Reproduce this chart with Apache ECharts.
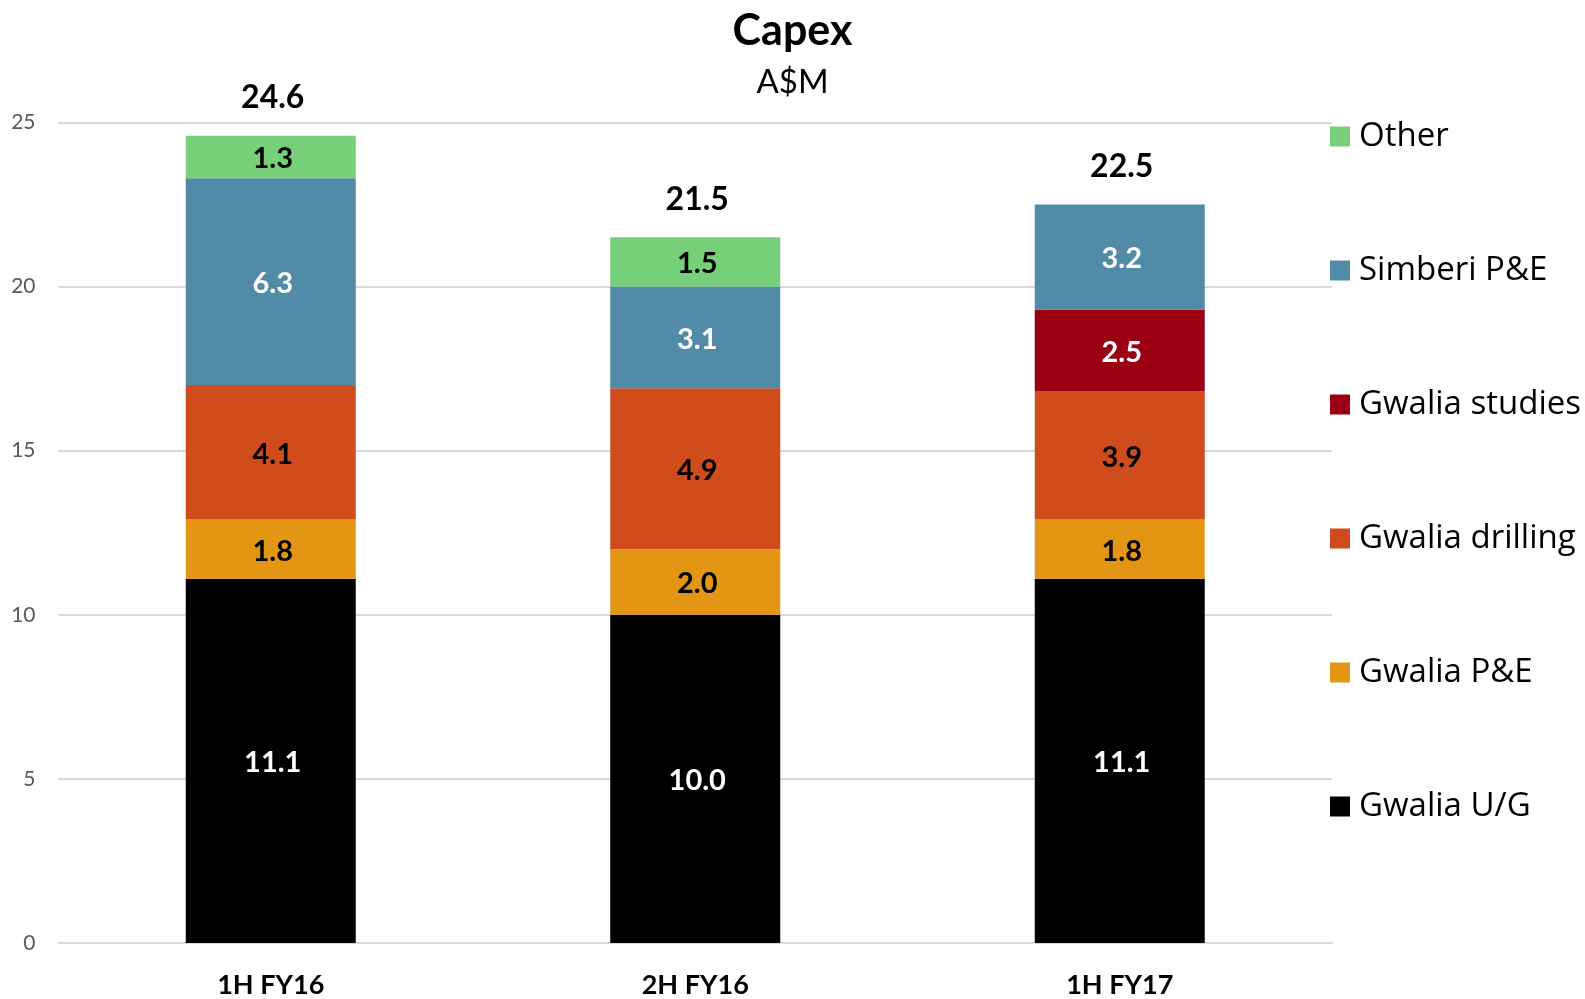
<!DOCTYPE html>
<html>
<head>
<meta charset="utf-8">
<style>
  html, body { margin: 0; padding: 0; background: #fff; }
  #chart { width: 1585px; height: 999px; }
</style>
<script src="https://cdn.jsdelivr.net/npm/echarts@6/dist/echarts.min.js"></script>
</head>
<body>
<div id="chart"></div>
<script>
// Half-year periods
const categories = ['1H FY16', '2H FY16', '1H FY17'];

// Capex components, A$M (bottom of stack first)
const gwaliaUG       = [11.1, 10.0, 11.1];
const gwaliaPE       = [1.8, 2.0, 1.8];
const gwaliaDrilling = [4.1, 4.9, 3.9];
const gwaliaStudies  = [0, 0, 2.5];
const simberiPE      = [6.3, 3.1, 3.2];
const other          = [1.3, 1.5, 0];

const yTicks = { min: 0, max: 25, interval: 5 };

const seriesDefs = [
  { name: 'Gwalia U/G',      data: gwaliaUG,       color: '#000000', text: '#ffffff' },
  { name: 'Gwalia P&E',      data: gwaliaPE,       color: '#E39613', text: '#000000' },
  { name: 'Gwalia drilling', data: gwaliaDrilling, color: '#D04C1C', text: '#000000' },
  { name: 'Gwalia studies',  data: gwaliaStudies,  color: '#9B0012', text: '#ffffff' },
  { name: 'Simberi P&E',     data: simberiPE,      color: '#528BA7', text: '#ffffff' },
  { name: 'Other',           data: other,          color: '#77CF7A', text: '#000000' }
];

// Stack totals shown above each column
const totals = categories.map((_, i) =>
  Math.round(seriesDefs.reduce((s, d) => s + d.data[i], 0) * 10) / 10);

const numFont = 'Lato, "Open Sans", sans-serif';

const barSeries = seriesDefs.map(d => ({
  name: d.name,
  type: 'bar',
  stack: 'capex',
  barWidth: 170,
  data: d.data,
  itemStyle: { color: d.color },
  emphasis: { disabled: true },
  label: {
    show: true,
    position: 'inside',
    offset: [2, 2],
    color: d.text,
    fontFamily: numFont,
    fontWeight: 'bold',
    fontSize: 29,
    formatter: p => (p.value ? p.value.toFixed(1) : '')
  }
}));

// Invisible points at each column top carrying the total label
const totalSeries = {
  name: 'Total',
  type: 'line',
  data: totals,
  symbol: 'circle',
  symbolSize: 1,
  showSymbol: true,
  silent: true,
  itemStyle: { color: 'rgba(0,0,0,0)' },
  lineStyle: { width: 0, opacity: 0 },
  z: 10,
  label: {
    show: true,
    position: 'top',
    distance: 21,
    offset: [2, 0],
    color: '#000',
    fontFamily: numFont,
    fontWeight: 'bold',
    fontSize: 32,
    formatter: p => p.value.toFixed(1)
  }
};

const chart = echarts.init(document.getElementById('chart'), null, { renderer: 'canvas' });

chart.setOption({
  animation: false,
  backgroundColor: '#ffffff',
  title: [
    {
      text: 'Capex',
      left: 'center',
      top: 5,
      textStyle: { fontFamily: numFont, fontWeight: 'bold', fontSize: 43, color: '#000' }
    },
    {
      text: 'A$M',
      left: 'center',
      top: 61,
      textStyle: { fontFamily: numFont, fontWeight: 'normal', fontSize: 33, color: '#000' }
    }
  ],
  legend: {
    orient: 'vertical',
    left: 1325,
    top: 115,
    itemWidth: 20,
    itemHeight: 20,
    itemGap: 101,
    icon: 'rect',
    data: seriesDefs.map(d => d.name).reverse(),
    textStyle: {
      fontFamily: '"Open Sans", sans-serif',
      fontSize: 33,
      color: '#000',
      padding: [0, 0, 0, 4]
    },
    selectedMode: false
  },
  grid: { left: 58.5, right: 253, top: 122.5, bottom: 56, containLabel: false },
  xAxis: {
    type: 'category',
    data: categories,
    axisTick: { show: false },
    axisLine: { show: true, lineStyle: { color: '#d9d9d9', width: 2 } },
    axisLabel: {
      margin: 29,
      color: '#000',
      fontFamily: numFont,
      fontWeight: 'bold',
      fontSize: 27
    }
  },
  yAxis: {
    type: 'value',
    min: yTicks.min,
    max: yTicks.max,
    interval: yTicks.interval,
    axisLine: { show: false },
    axisTick: { show: false },
    splitLine: { lineStyle: { color: '#d9d9d9', width: 2 } },
    axisLabel: {
      margin: 23,
      color: '#595959',
      fontFamily: numFont,
      fontSize: 21
    }
  },
  series: [...barSeries, totalSeries]
});
</script>
</body>
</html>
